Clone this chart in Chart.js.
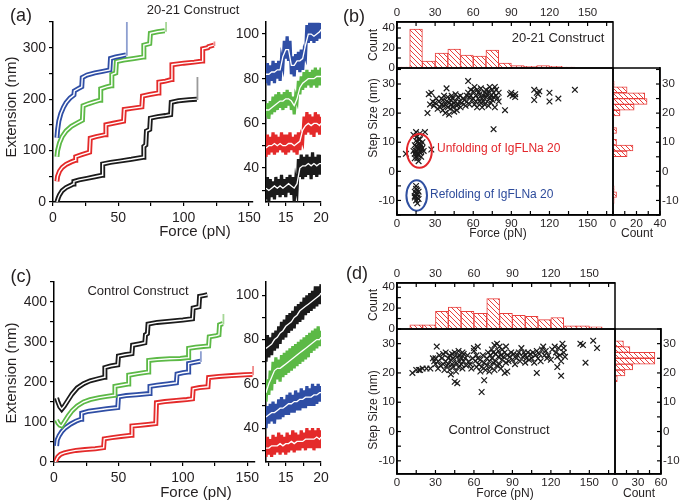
<!DOCTYPE html>
<html>
<head>
<meta charset="utf-8">
<script src="https://cdn.jsdelivr.net/npm/chart.js@4.4.1/dist/chart.umd.min.js"></script>
<style>
  body { margin: 0; background: #fff; }
  #fig { position: relative; width: 685px; height: 504px; overflow: hidden; background: #fff;
         font-family: "Liberation Sans", Arial, sans-serif; color: #231f20; }
  #fig canvas { position: absolute; }
  .t { position: absolute; white-space: nowrap; transform: translate(-50%, -50%); }
  .v { transform: translate(-50%, -50%) rotate(-90deg); }
  .l { transform: translate(0, -50%); }
</style>
</head>
<body>
<div id="fig">
  <canvas id="aMain"></canvas>
  <canvas id="aIns"></canvas>
  <canvas id="cMain"></canvas>
  <canvas id="cIns"></canvas>
  <canvas id="bTop"></canvas>
  <canvas id="bSc"></canvas>
  <canvas id="bRight"></canvas>
  <canvas id="dTop"></canvas>
  <canvas id="dSc"></canvas>
  <canvas id="dRight"></canvas>

  <div class="t" style="left:21px;top:15px;font-size:18px">(a)</div>
  <div class="t" style="left:193px;top:9px;font-size:13px">20-21 Construct</div>
  <div class="t v" style="left:10px;top:107px;font-size:15px">Extension (nm)</div>
  <div class="t" style="left:195px;top:230px;font-size:15px">Force (pN)</div>

  <div class="t" style="left:354px;top:16px;font-size:18px">(b)</div>
  <div class="t v" style="left:373px;top:45px;font-size:12px">Count</div>
  <div class="t v" style="left:373px;top:118px;font-size:12px">Step Size (nm)</div>
  <div class="t" style="left:498px;top:233px;font-size:12px">Force (pN)</div>
  <div class="t" style="left:637px;top:233px;font-size:12px">Count</div>
  <div class="t" style="left:558px;top:37px;font-size:13px">20-21 Construct</div>
  <div class="t l" style="left:437px;top:148px;font-size:12px;color:#e3262b">Unfolding of IgFLNa 20</div>
  <div class="t l" style="left:430px;top:194px;font-size:12px;color:#2d4b9b">Refolding of IgFLNa 20</div>

  <div class="t" style="left:21px;top:276px;font-size:18px">(c)</div>
  <div class="t" style="left:138px;top:290px;font-size:13px">Control Construct</div>
  <div class="t v" style="left:10px;top:373px;font-size:15px">Extension (nm)</div>
  <div class="t" style="left:196px;top:491px;font-size:15px">Force (pN)</div>

  <div class="t" style="left:357px;top:273px;font-size:18px">(d)</div>
  <div class="t v" style="left:373px;top:305px;font-size:12px">Count</div>
  <div class="t v" style="left:373px;top:410px;font-size:12px">Step Size (nm)</div>
  <div class="t" style="left:505px;top:493px;font-size:12px">Force (pN)</div>
  <div class="t" style="left:639px;top:493px;font-size:12px">Count</div>
  <div class="t" style="left:499px;top:429px;font-size:13px">Control Construct</div>
</div>

<script>
// ---- (a) force-extension traces, [force pN, extension nm]
const blackA = [[3,0],[4,8],[5,14],[7,22],[10,28],[14,33],[15.5,35],[16,40],[20,43],[26,46],[32,49],[37.5,52],[38,74],[44,77],[52,80],[60,83],[69,87],[69.5,108],[71,111],[71.5,138],[74,141],[74.5,163],[80,166],[86,168],[90,170],[90.5,194],[96,197],[104,199],[110,200]];
const blackSpikeA = [[110,200],[110.5,200],[110.5,243]];
const redA = [[3,40],[3.5,50],[5,60],[7,67],[10,73],[14,78],[17,81],[17.4,88],[22,92],[28,97],[28.5,124],[33,127],[40,131],[40.5,150],[46,153],[54,157],[54.5,180],[60,182],[68,185],[68.5,206],[74,209],[80.5,212],[81,233],[86,235],[90.5,238],[91,267],[100,270],[108,272],[114,274],[114.5,298],[118.5,300],[119,302],[123,305]];
const redSpikeA = [[123,305],[123.5,305],[123.5,312]];
const greenA = [[3,88],[3.5,100],[5,115],[7,127],[10,138],[14,147],[18,153],[22.5,159],[23,187],[27,191],[32,195],[36,198],[36.5,220],[41,224],[44.5,226],[45,248],[48,251],[48.5,273],[54,276],[62,279],[69,282],[69.5,305],[74,308],[74.5,328],[80,331],[85.5,333]];
const greenSpikeA = [[85.5,333],[86.5,333],[86.5,355]];
const blueA = [[3,125],[3.5,140],[4.5,158],[6,172],[8,184],[10,193],[13,202],[16,208],[16.3,216],[19,220],[22,224],[22.4,242],[26,247],[32,251],[38,254],[43.5,257],[44,279],[48,282],[52,284],[55.8,286]];
const blueSpikeA = [[55.8,286],[56.5,286],[56.5,355]];

// ---- (c) force-extension traces
const blackC = [[2,160],[3,150],[4.5,138],[6,132],[8,140],[11,155],[14,170],[18,185],[23,196],[28,203],[34,208],[39,212],[39.5,236],[44,240],[49.5,243],[50,265],[55,268],[60.5,271],[61,292],[66,295],[70.5,298],[71,318],[72.5,321],[73,345],[80,349],[90,352],[100,355],[107.5,358],[108,385],[112.5,388],[113,414],[116,416],[119,418]];
const greenC = [[2,105],[3,98],[4.5,92],[6,90],[8,100],[11,115],[14,128],[18,140],[23,150],[28,156],[35,161],[41,164],[47,167],[47.3,189],[52,192],[57.5,195],[58,217],[65,221],[73,225],[73.5,254],[80,256],[90,258],[98,259],[104,261],[104.5,284],[110,287],[116,289],[120,290],[120.5,313],[126,316],[128,318],[128.5,343],[131,346]];
const greenSpikeC = [[131,346],[131.5,346],[131.5,370]];
const blueC = [[2,40],[2.5,55],[4,66],[6,76],[9,86],[13,95],[17,102],[21,107],[21.5,122],[27,127],[34,130],[41,133],[49.5,136],[50,163],[56,166],[64,168],[74,171],[74.5,189],[80,192],[88,195],[95,198],[95.5,220],[100,223],[104,225],[104.5,246],[109,249],[113.5,252]];
const blueSpikeC = [[113.5,252],[114,252],[114,277]];
const redC = [[1,0],[2,7],[3,13],[5,19],[8,23],[12,26],[17,29],[24,31],[32,33],[38.5,36],[39,58],[45,61],[52,64],[60,67],[60.5,90],[67,92],[73,94],[79,96],[79.5,148],[86,151],[95,154],[103,156],[107.5,158],[108,183],[113,186],[119.5,188],[120,211],[128,214],[138,216],[148,218],[154,219]];
const redSpikeC = [[154,219],[154.5,219],[154.5,240]];

// ---- insets (12-20 pN zoom): raw noisy extension and averaged trace
const insetF = [12.2,12.4,12.6,12.8,13.0,13.2,13.4,13.6,13.8,14.0,14.2,14.4,14.6,14.8,15.0,15.2,15.4,15.6,15.8,16.0,16.2,16.4,16.6,16.8,17.0,17.2,17.4,17.6,17.8,18.0,18.2,18.4,18.6,18.8,19.0,19.2,19.4,19.6,19.8,20.0];
const insetFw = [12.2,12.6,13.0,13.4,13.8,14.2,14.6,15.0,15.4,15.8,16.2,16.6,17.0,17.4,17.8,18.2,18.6,19.0,19.4,19.8,20.0];

const aBlackRaw = [26,36,25,35,27,34,26,36,28,35,27,37,28,35,27,36,29,37,28,36,25,34,30,44,36,46,35,45,36,46,37,45,35,47,37,45,36,46,37,46];
const aBlackAvg = [31,30,31,32,31,32,31,32,33,32,31,33,40,41,41,42,41,42,41,42,42];
const aRedRaw = [45,55,46,54,47,56,46,55,47,54,48,56,47,55,46,55,47,56,48,54,47,55,46,56,48,54,52,63,55,65,56,64,55,63,54,65,56,64,55,63];
const aRedAvg = [49,50,50,51,50,51,50,50,51,51,50,51,52,57,59,60,59,60,60,59,60];
const aGreenRaw = [63,69,62,70,64,72,65,73,66,74,67,73,66,74,67,75,68,74,66,72,64,72,70,79,73,81,75,83,76,84,77,83,76,84,77,85,76,84,77,85];
const aGreenAvg = [66,66,67,68,69,70,70,71,71,70,68,71,76,78,79,80,80,80,81,81,81];
const aBlueRaw = [78,87,77,86,79,88,78,87,80,88,79,89,86,97,89,99,88,97,82,90,81,91,84,92,83,93,84,92,90,104,96,105,97,105,96,105,97,105,98,105];
const aBlueAvg = [82,82,83,83,84,84,90,93,93,86,86,88,88,89,95,100,100,99,100,101,102];

const cBlackRaw = [70,82,72,81,73,83,75,84,76,86,78,88,80,89,81,91,83,92,84,93,85,95,87,96,88,97,89,99,91,100,92,101,93,102,94,104,95,104,96,105];
const cBlackAvg = [76,77,78,80,81,83,84,86,87,88,90,91,93,94,95,96,97,98,99,100,101];
const cGreenRaw = [52,62,55,66,57,70,60,72,62,71,61,73,63,74,64,75,65,76,66,77,67,78,68,79,69,80,70,81,71,82,72,83,74,84,75,85,76,86,77,84];
const cGreenAvg = [56,60,63,66,67,67,68,69,70,71,72,73,74,75,76,77,78,79,80,80,81];
const cBlueRaw = [40,50,42,51,43,52,42,51,44,53,44,54,45,53,46,55,46,56,47,55,47,57,48,56,48,58,49,57,49,59,50,58,50,60,50,59,51,60,52,59];
const cBlueAvg = [45,46,47,47,48,49,49,50,51,51,52,52,53,53,54,54,54,55,55,56,56];
const cRedRaw = [27,36,28,35,27,37,28,36,29,38,28,37,29,36,28,38,29,37,30,39,29,38,30,37,30,39,31,38,30,40,31,39,31,40,30,39,31,40,31,39];
const cRedAvg = [31,31,32,32,32,33,32,33,33,34,33,34,34,34,35,35,35,35,36,35,36];

// ---- (b) step size vs force, [force pN, step nm]
const bSteps = [
  [24,20],[25,26.5],[26,23],[27,27],[28,24],[29,22.5],[30,23.5],[31,25],[32,21.5],[33,24],[34,22],[35,23],[35,25],[36,21],[36,24.5],
  [37,22.5],[37,26],[38,23],[38,20],[39,24],[39,28.5],[40,22],[40,25.5],[41,23.5],[41,19.5],[42,21.5],[42,24.5],[43,23],[43,26],
  [44,22],[44,25],[45,20.5],[45,23.5],[46,24],[46,26.5],[47,22.5],[47,21],[48,23],[48,25.5],[49,24],[50,22],[50,26],[51,23.5],
  [52,25],[53,24.5],[54,22.5],[55,26],[55,24],[56,27],[56,31],[57,25.5],[57,23],[58,26],[58,28],[59,24.5],[60,27.5],[60,25],
  [61,29],[61,23],[62,26],[62,24],[63,28],[63,22],[64,25],[64,27],[65,24],[65,26.5],[66,23.5],[66,28.5],[67,25],[67,22],[68,26],
  [68,24],[69,27],[69,23],[70,25.5],[70,28],[71,24],[71,26.5],[72,22.5],[72,27.5],[73,25],[73,29],[74,26],[74,23.5],[75,28],
  [75,24.5],[76,27],[76,25.5],[77,29],[77,22],[78,26],[78,28],[79,25],[80,27],[80,24],[85,21],[89,26.5],[90,27],[91,26],
  [93,26.5],[93,25.5],[108,24.5],[108,28],[110,27],[111,26.5],[112,27.5],[120,24],[120,27],[127,25],[140,28],[76,14.5],
  [13,12.5],[15,13.5],[18,13],[22,13.5],[7,6],[27,7.5],[14,9],[15,7],[15,5],[16,8],[16,10],[16,6],[17,7.5],[17,9.5],[17,5.5],
  [18,8],[18,11],[18,6.5],[19,7],[19,9],[15,10.5],[14,6],[20,8],[16,4.5],[17,3.5],[13,7],[19,5],[16,12],[18,9.5],[15,8.5],
  [17,11],[14,4.5],[20,10],[21,7],
  [15,-5],[16,-6.5],[14,-7],[15,-7.5],[16,-8],[14,-9],[17,-9.5],[15,-10],[16,-11],[15,-6],[17,-7],[14,-8.5],[16,-9]
];

// ---- (d) step size vs force
const dSteps = [
  [12,20],[15,21],[17,21],[18,21],[20,21.5],[23,21.5],[26,21.5],[28,25],[29,24],[30,23],[30,25],[31,29],[32,21.5],[32,24],
  [33,26],[34,22.5],[35,25],[36,23],[36,26.5],[37,21],[38,24],[38,27],[39,22.5],[40,25],[40,23],[41,26],[41,21],[42,24.5],
  [42,19.5],[43,23],[43,26.5],[44,22],[44,25],[45,17],[45,27],[46,23.5],[46,20.5],[47,16.5],[47,25.5],[48,22],[48,27.5],
  [49,24],[49,26],[50,23],[50,25],[51,27],[51,21.5],[52,24],[52,26.5],[53,25],[54,22.5],[55,26],[56,24],[57,23],[58,21.5],
  [59,25],[60,27.5],[60,28.5],[61,24],[62,26],[62,22],[63,29],[63,25],[64,23],[65,20.5],[65,24.5],[66,13.5],[66,22],[67,26],
  [68,17.5],[68,23.5],[69,21],[70,25],[70,22.5],[71,27],[72,24],[72,20.5],[73,26],[73,22],[74,28],[74,25],[75,23.5],[75,27],
  [76,29.5],[76,21],[77,26.5],[77,24],[78,30],[78,22.5],[79,27.5],[79,25.5],[80,23],[80,29],[81,26],[81,21.5],[82,28],
  [82,24.5],[83,25.5],[84,20],[84,27],[85,29],[85,23.5],[86,26],[86,20.5],[87,24],[88,25.5],[89,27],[90,24.5],[91,26.5],
  [92,23],[93,25],[94,26],[95,27],[96,24],[97,28.5],[98,25.5],[99,27],[100,23.5],[100,26],[101,25],[102,27],[103,24.5],
  [104,26.5],[105,25],[106,27],[107,23.5],[108,26],[109,20],[109,27.5],[110,25],[111,26.5],[112,24],[113,28],[114,29],
  [115,26],[116,27.5],[117,25],[118,26],[120,24.5],[121,28],[123,29],[124,27],[125,22],[125,25.5],[126,28.5],[127,26],
  [128,19],[128,24],[129,30],[130,27],[131,25.5],[130,28.5],[143,30],[145,29.5],[147,23.5],[153,31],[156,28.5]
];

// ---- histograms
const forceBins = [5,15,25,35,45,55,65,75,85,95,105,115,125,135,145,155];
const bForceCounts = [1,39,7,15,19,13,12,18,5,2.3,1.7,2.3,1.7,1,0,0];
const dForceCounts = [0,4,4,17,21,17,15,29,15,13,12,9,11,3,3,2];
const stepBins = [-14,-12,-10,-8,-6,-4,-2,0,2,4,6,8,10,12,14,16,18,20,22,24,26,28,30,32,34];
const bStepCounts = [0,0,1,3,1,0,0,0,0,0,12,17,3,0,3,0,0,6,18,29,27,12,1,0,0];
const dStepCounts = [0,0,0,0,0,0,0,0,0,0,0,0,0,0,0,0,3,13,23,52,52,19.5,11,0,0];

// ellipses round the two step clusters in (b): centre and half axes in data units
const bOvals = [
  { x: 17.6, y: 7.0, rx: 9.8, ry: 5.8, color: '#e3262b' },
  { x: 15.5, y: -8.3, rx: 8.1, ry: 5.2, color: '#2f4fa0' }
];

const C = {
  black: '#1b1b1b', red: '#e42a2a', green: '#5cb946', blue: '#2f4ea5',
  blackL: '#9a9a9a', redL: '#f08a8a', greenL: '#a6d797', blueL: '#8e9fd0',
  hist: '#e8413e'
};

Chart.defaults.font.family = '"Liberation Sans", Arial, sans-serif';
Chart.defaults.color = '#231f20';
Chart.defaults.plugins.legend.display = false;
Chart.defaults.plugins.tooltip.enabled = false;
Chart.defaults.elements.point.radius = 0;
Chart.defaults.elements.line.tension = 0;

// box round the plot area
const framePlugin = {
  id: 'frame',
  afterDraw(chart, args, o) {
    if (!o.on) return;
    const { ctx, chartArea: a } = chart;
    ctx.save();
    ctx.strokeStyle = '#000';
    ctx.lineWidth = 1.5;
    ctx.strokeRect(a.left, a.top, a.right - a.left, a.bottom - a.top);
    ctx.restore();
  }
};

// tick marks pointing into the plot area
const inTicksPlugin = {
  id: 'inTicks',
  afterDraw(chart, args, o) {
    if (!o.on) return;
    const { ctx, chartArea: a } = chart;
    ctx.save();
    ctx.strokeStyle = '#000';
    ctx.lineWidth = 1.2;
    Object.values(chart.scales).forEach(s => {
      if (s.options.display === false) return;
      s.ticks.forEach(t => {
        const p = s.getPixelForValue(t.value);
        ctx.beginPath();
        if (s.position === 'left') { ctx.moveTo(a.left, p); ctx.lineTo(a.left + 4, p); }
        if (s.position === 'right') { ctx.moveTo(a.right, p); ctx.lineTo(a.right - 4, p); }
        if (s.position === 'bottom') { ctx.moveTo(p, a.bottom); ctx.lineTo(p, a.bottom - 4); }
        if (s.position === 'top') { ctx.moveTo(p, a.top); ctx.lineTo(p, a.top + 4); }
        ctx.stroke();
      });
    });
    ctx.restore();
  }
};

const ovalPlugin = {
  id: 'ovals',
  afterDatasetsDraw(chart, args, o) {
    if (!o.items) return;
    const { ctx, scales: { x, y } } = chart;
    ctx.save();
    ctx.lineWidth = 2;
    o.items.forEach(e => {
      const cx = x.getPixelForValue(e.x), cy = y.getPixelForValue(e.y);
      const rx = Math.abs(x.getPixelForValue(e.x + e.rx) - cx);
      const ry = Math.abs(y.getPixelForValue(e.y + e.ry) - cy);
      ctx.strokeStyle = e.color;
      ctx.beginPath();
      ctx.ellipse(cx, cy, rx, ry, 0, 0, Math.PI * 2);
      ctx.stroke();
    });
    ctx.restore();
  }
};

Chart.register(framePlugin, inTicksPlugin, ovalPlugin);

// red diagonal hatching for the histogram bars
function hatch() {
  const pc = document.createElement('canvas');
  pc.width = pc.height = 5;
  const g = pc.getContext('2d');
  g.fillStyle = '#fff';
  g.fillRect(0, 0, 5, 5);
  g.strokeStyle = C.hist;
  g.lineWidth = 1;
  g.beginPath();
  g.moveTo(0, 0); g.lineTo(5, 5);
  g.moveTo(-1, 4); g.lineTo(1, 6);
  g.moveTo(4, -1); g.lineTo(6, 1);
  g.stroke();
  return g.createPattern(pc, 'repeat');
}
const hatchFill = hatch();

const pts = arr => arr.map(p => ({ x: p[0], y: p[1] }));
const zipXY = (xs, ys) => xs.map((x, i) => ({ x, y: ys[i] }));

// Chart.js paints the first dataset last, so the white centre line goes first
function trace(arr, color) {
  return [
    { data: pts(arr), borderColor: '#fff', borderWidth: 1.4 },
    { data: pts(arr), borderColor: color, borderWidth: 5 }
  ];
}
function spike(arr, color) {
  return { data: pts(arr), borderColor: color, borderWidth: 1.8 };
}
function band(raw, avg, color) {
  return [
    { data: zipXY(insetFw, avg), borderColor: '#fff', borderWidth: 1.3 },
    { data: zipXY(insetF, raw), borderColor: color, borderWidth: 3.2 }
  ];
}

const M = 14;
// size the canvas so that its plot area lands on box = [left, top, right, bottom]
function place(id, box, ax) {
  const c = document.getElementById(id);
  const w = box[2] - box[0] + ax.l + ax.r + 2 * M;
  const h = box[3] - box[1] + ax.t + ax.b + 2 * M;
  c.width = w; c.height = h;
  c.style.left = (box[0] - ax.l - M) + 'px';
  c.style.top = (box[1] - ax.t - M) + 'px';
  return c;
}

function lin(pos, min, max, step, every, size, o) {
  o = o || {};
  const lim = o.top === undefined ? Infinity : o.top;
  return {
    type: 'linear', position: pos, min, max, offset: false,
    border: { display: true, color: '#000', width: 1.5 },
    grid: { drawOnChartArea: false, drawTicks: !o.inner, tickLength: 4, color: '#000', lineWidth: 1.2, offset: false },
    ticks: {
      stepSize: step, includeBounds: false, autoSkip: false, maxRotation: 0,
      padding: o.pad === undefined ? 3 : o.pad,
      font: { size: o.font || 14 }, color: '#231f20',
      callback: v => (every && Math.abs(v / every - Math.round(v / every)) < 1e-6 && v <= lim) ? v : ''
    },
    afterFit: s => { if (pos === 'left' || pos === 'right') s.width = size; else s.height = size; }
  };
}

function make(id, box, ax, cfg) {
  const c = place(id, box, ax);
  cfg.options = Object.assign({ responsive: false, animation: false, devicePixelRatio: 1, layout: { padding: M } }, cfg.options);
  return new Chart(c, cfg);
}

function histBars(bins, counts) {
  return { data: bins.map((b, i) => ({ x: b, y: counts[i] })), backgroundColor: hatchFill, borderColor: C.hist,
           borderWidth: 1, barPercentage: 1, categoryPercentage: 1 };
}
function sideBars(bins, counts) {
  return { data: bins.map((b, i) => ({ x: counts[i], y: b })), backgroundColor: hatchFill, borderColor: C.hist,
           borderWidth: 1, barPercentage: 1, categoryPercentage: 1 };
}
function crosses(arr) {
  return { data: pts(arr), pointStyle: 'crossRot', pointRadius: 4, borderColor: C.black, borderWidth: 1.2, showLine: false };
}

const small = { font: 11.5, inner: true, pad: 2 };

// ---- (a)
make('aMain', [53, 22, 253, 202], { l: 42, r: 0, t: 0, b: 24 }, {
  type: 'line',
  data: { datasets: [
    ...trace(blueA, C.blue), spike(blueSpikeA, C.blueL),
    ...trace(greenA, C.green), spike(greenSpikeA, C.greenL),
    ...trace(redA, C.red), spike(redSpikeA, C.redL),
    ...trace(blackA, C.black), spike(blackSpikeA, C.blackL)
  ] },
  options: { scales: { x: lin('bottom', 0, 153, 25, 50, 24, { pad: 4 }), y: lin('left', 0, 350, 50, 100, 42) } }
});
make('aIns', [266, 22, 321, 202], { l: 34, r: 0, t: 0, b: 24 }, {
  type: 'line',
  data: { datasets: [
    ...band(aBlueRaw, aBlueAvg, C.blue), ...band(aGreenRaw, aGreenAvg, C.green),
    ...band(aRedRaw, aRedAvg, C.red), ...band(aBlackRaw, aBlackAvg, C.black)
  ] },
  options: { scales: { x: lin('bottom', 12.2, 20, 2.5, 5, 24, { pad: 4 }), y: lin('left', 24.8, 105.4, 10, 20, 34) } }
});

// ---- (c)
make('cMain', [54, 282, 255, 462], { l: 42, r: 0, t: 0, b: 24 }, {
  type: 'line',
  data: { datasets: [
    ...trace(blackC, C.black),
    ...trace(greenC, C.green), spike(greenSpikeC, C.greenL),
    ...trace(blueC, C.blue), spike(blueSpikeC, C.blueL),
    ...trace(redC, C.red), spike(redSpikeC, C.redL)
  ] },
  options: { scales: { x: lin('bottom', 0, 156, 25, 50, 24, { pad: 4 }), y: lin('left', 0, 450, 50, 100, 42) } }
});
make('cIns', [266, 282, 321, 462], { l: 34, r: 0, t: 0, b: 24 }, {
  type: 'line',
  data: { datasets: [
    ...band(cBlackRaw, cBlackAvg, C.black), ...band(cGreenRaw, cGreenAvg, C.green),
    ...band(cBlueRaw, cBlueAvg, C.blue), ...band(cRedRaw, cRedAvg, C.red)
  ] },
  options: { scales: { x: lin('bottom', 12.2, 20, 2.5, 5, 24, { pad: 4 }), y: lin('left', 24.7, 106, 10, 20, 34) } }
});

// ---- (b) and (d): scatter with marginal histograms
function marginal(ids, boxes, steps, fCounts, sCounts, yr, topMax, sideMax, sideStep, ovals) {
  make(ids[0], boxes[0], { l: 28, r: 0, t: 18, b: 0 }, {
    type: 'bar',
    data: { datasets: [histBars(forceBins, fCounts)] },
    options: {
      scales: { x: lin('top', 0, 170, 15, 30, 18, Object.assign({ top: 150 }, small)), y: lin('left', 0, topMax, 10, 20, 28, small) },
      plugins: { frame: { on: true }, inTicks: { on: true } }
    }
  });
  make(ids[1], boxes[1], { l: 28, r: 0, t: 0, b: 16 }, {
    type: 'scatter',
    data: { datasets: [crosses(steps)] },
    options: {
      scales: { x: lin('bottom', 0, 170, 15, 30, 16, Object.assign({ top: 150 }, small)), y: lin('left', yr[0], yr[1], 5, 10, 28, small) },
      plugins: { frame: { on: true }, inTicks: { on: true }, ovals: { items: ovals } }
    }
  });
  make(ids[2], boxes[2], { l: 0, r: 26, t: 0, b: 16 }, {
    type: 'bar',
    data: { datasets: [sideBars(stepBins, sCounts)] },
    options: {
      indexAxis: 'y',
      scales: { x: lin('bottom', 0, sideMax, sideStep / 2, sideStep, 16, small), y: lin('right', yr[0], yr[1], 5, 10, 26, small) },
      plugins: { frame: { on: true }, inTicks: { on: true } }
    }
  });
}

marginal(['bTop', 'bSc', 'bRight'],
  [[397, 22, 613, 68], [397, 68, 613, 215], [613, 68, 660, 215]],
  bSteps, bForceCounts, bStepCounts, [-15, 35.5], 46, 40, 20, bOvals);
marginal(['dTop', 'dSc', 'dRight'],
  [[397, 283, 615, 329], [397, 329, 615, 474], [615, 329, 661, 474]],
  dSteps, dForceCounts, dStepCounts, [-14.5, 35], 44, 60, 30, null);
</script>
</body>
</html>
